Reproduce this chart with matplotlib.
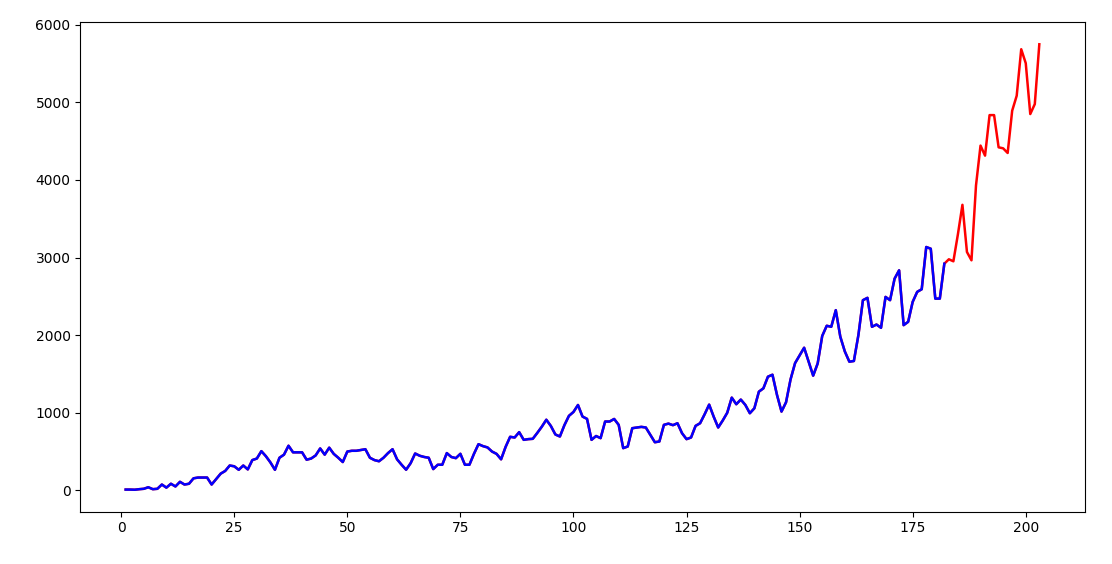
import matplotlib
matplotlib.use("Agg")
import matplotlib.pyplot as plt

x_values = list(range(1, 204))
series_values = [
    10, 10, 8, 15, 20, 40, 15, 20, 75, 35,
    85, 50, 110, 75, 85, 155, 165, 165, 165, 75,
    145, 215, 250, 320, 310, 265, 320, 270, 390, 410,
    505, 440, 360, 265, 420, 460, 575, 490, 490, 490,
    395, 410, 450, 540, 460, 550, 470, 420, 365, 500,
    510, 510, 520, 530, 420, 390, 375, 420, 480, 530,
    400, 330, 266, 350, 475, 446, 430, 420, 274, 330,
    330, 480, 430, 415, 471, 330, 330, 470, 595, 570,
    553, 500, 470, 400, 560, 690, 681, 750, 651, 660,
    664, 740, 820, 910, 830, 720, 694, 840, 960, 1010,
    1100, 951, 921, 651, 700, 673, 887, 887, 920, 844,
    544, 565, 801, 810, 818, 810, 716, 620, 630, 844,
    860, 840, 865, 737, 660, 681, 831, 865, 980, 1105,
    950, 810, 900, 1000, 1195, 1110, 1170, 1101, 994, 1058,
    1272, 1315, 1465, 1490, 1230, 1015, 1135, 1430, 1640, 1740,
    1838, 1658, 1478, 1636, 1990, 2121, 2108, 2322, 1980, 1790,
    1658, 1667, 2001, 2451, 2481, 2108, 2137, 2095, 2493, 2451,
    2728, 2836, 2129, 2172, 2429, 2558, 2592, 3136, 3114, 2471,
    2471, 2921, 2978, 2952, 3300, 3680, 3072, 2965, 3929, 4443,
    4314, 4836, 4836, 4421, 4408, 4348, 4893, 5086, 5685, 5505,
    4850, 4978, 5749,
]
train_len = 182

fig = plt.figure(figsize=(11.12, 5.64), dpi=100)
ax = fig.add_axes([80 / 1112, 1 - 512 / 564, (1085 - 80) / 1112, (512 - 22) / 564])
ax.plot(x_values, series_values, color="red", linewidth=1.8)
ax.plot(x_values[:train_len], series_values[:train_len], color="blue", linewidth=1.8)
ax.set_yticks([0, 1000, 2000, 3000, 4000, 5000, 6000])
ax.set_xticks([0, 25, 50, 75, 100, 125, 150, 175, 200])
ax.tick_params(labelsize=10, length=3.3)
fig.savefig("out.png", dpi=100, facecolor="white")
